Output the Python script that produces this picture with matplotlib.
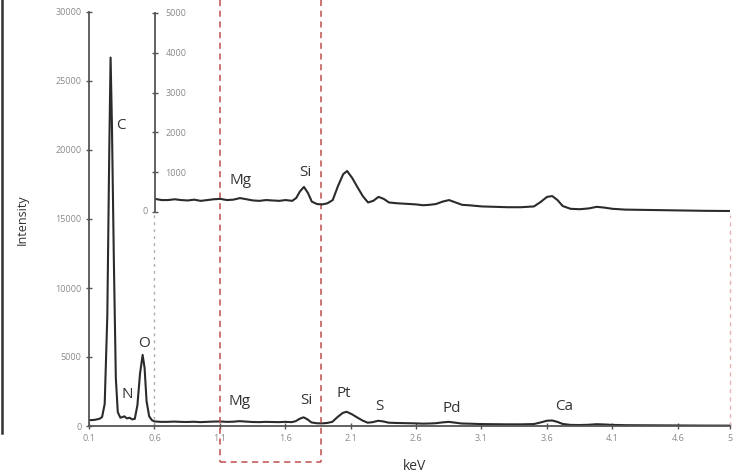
import matplotlib
matplotlib.use("Agg")
import matplotlib.pyplot as plt
import matplotlib.transforms as mtransforms
from matplotlib.lines import Line2D

# ---------------- data ----------------
energy_kev = [0.10, 0.14, 0.18, 0.20, 0.22, 0.24, 0.255, 0.265, 0.275, 0.29, 0.305, 0.32,
              0.34, 0.37, 0.39, 0.41, 0.43, 0.45, 0.47, 0.49, 0.51, 0.525, 0.54, 0.56,
              0.58, 0.60, 0.65, 0.70, 0.75, 0.80, 0.85, 0.90, 0.95, 1.00, 1.05, 1.10,
              1.15, 1.20, 1.25, 1.30, 1.35, 1.40, 1.45, 1.50, 1.55, 1.60, 1.65, 1.68,
              1.71, 1.74, 1.77, 1.80, 1.84, 1.88, 1.92, 1.96, 2.00, 2.04, 2.07, 2.11,
              2.15, 2.19, 2.23, 2.27, 2.31, 2.35, 2.39, 2.45, 2.50, 2.55, 2.60, 2.65,
              2.70, 2.75, 2.80, 2.85, 2.90, 2.95, 3.00, 3.10, 3.20, 3.30, 3.40, 3.50,
              3.55, 3.60, 3.64, 3.68, 3.72, 3.78, 3.85, 3.92, 3.98, 4.04, 4.10, 4.20,
              4.40, 4.60, 4.80, 5.00]
counts = [420, 440, 520, 650, 1600, 8000, 20000, 26700, 22000, 12000, 3500, 1000,
          600, 700, 550, 600, 480, 520, 1500, 3800, 5150, 4200, 1800, 700,
          430, 330, 300, 300, 320, 300, 290, 310, 280, 300, 320, 330,
          300, 310, 350, 320, 290, 280, 300, 290, 280, 300, 280, 350,
          520, 630, 480, 260, 200, 190, 220, 300, 650, 950, 1030, 850,
          620, 400, 240, 280, 380, 330, 240, 220, 210, 200, 190, 170,
          180, 200, 260, 300, 240, 180, 170, 140, 130, 120, 120, 140,
          250, 380, 400, 300, 150, 80, 70, 90, 130, 110, 80, 60,
          50, 40, 30, 25]

main_xticks = [0.1, 0.6, 1.1, 1.6, 2.1, 2.6, 3.1, 3.6, 4.1, 4.6, 5.0]
main_xticklabels = ["0.1", "0.6", "1.1", "1.6", "2.1", "2.6", "3.1", "3.6", "4.1", "4.6", "5"]
main_yticks = [0, 5000, 10000, 15000, 20000, 25000, 30000]
inset_yticks = [0, 1000, 2000, 3000, 4000, 5000]

main_labels = ["C", "N", "O", "Mg", "Si", "Pt", "S", "Pd", "Ca"]
main_label_x = [0.346, 0.39, 0.523, 1.254, 1.76, 2.05, 2.32, 2.87, 3.73]
main_label_y = [21740, 2250, 6000, 1740, 1880, 2390, 1380, 1300, 1380]
inset_labels = ["Mg", "Si"]
inset_label_x = [1.254, 1.75]
inset_label_y = [780, 980]

box_x = [1.1, 1.87]

# ---------------- figure ----------------
plt.rcParams['font.family'] = ['Open Sans', 'DejaVu Sans']
fig = plt.figure(figsize=(7.43, 4.76), dpi=100)
W, H = 743, 476

def fx(px):
    return px / W

def fy(py):
    return 1 - py / H

spine_col = "#555555"
tick_col = "#8a8a8a"
line_col = "#2b2b2b"
tick_fs = 6.5

ax = fig.add_axes([fx(89), fy(426), fx(730) - fx(89), fy(12) - fy(426)])
ax.plot(energy_kev, counts, color=line_col, lw=1.5)
ax.set_xlim(0.1, 5.0)
ax.set_ylim(0, 30000)
ax.set_xticks(main_xticks)
ax.set_xticklabels(main_xticklabels)
ax.set_yticks(main_yticks)
ax.set_yticklabels([str(v) for v in main_yticks])
for s in ["top", "right"]:
    ax.spines[s].set_visible(False)
for s in ["left", "bottom"]:
    ax.spines[s].set_color(spine_col)
    ax.spines[s].set_linewidth(1.3)
ax.tick_params(axis="both", direction="inout", length=5, width=1, color=spine_col,
               labelsize=tick_fs, labelcolor=tick_col, pad=3)
ax.patch.set_alpha(0)

for t, x, y in zip(main_labels, main_label_x, main_label_y):
    ax.text(x, y, t, ha="center", va="center", fontsize=11, color="#333333")

# inset
ax2 = fig.add_axes([fx(155), fy(212), fx(730) - fx(155), fy(13) - fy(212)])
ax2.plot(energy_kev, counts, color=line_col, lw=1.5)
ax2.set_xlim(0.6, 5.0)
ax2.set_ylim(0, 5000)
ax2.set_yticks(inset_yticks)
ax2.set_yticklabels([""] + [str(v) for v in inset_yticks[1:]])
ax2.set_xticks([])
for s in ["top", "right", "bottom"]:
    ax2.spines[s].set_visible(False)
ax2.spines["left"].set_color(spine_col)
ax2.spines["left"].set_linewidth(1.3)
ax2.tick_params(axis="y", direction="inout", length=5, width=1, color=spine_col,
                labelsize=tick_fs, labelcolor=tick_col, pad=-10)
for lbl in ax2.get_yticklabels():
    lbl.set_horizontalalignment("left")
ax2.text(-0.012, 0, str(inset_yticks[0]), transform=ax2.get_yaxis_transform(),
         ha="right", va="center", fontsize=tick_fs, color=tick_col)
ax2.patch.set_alpha(0)
for t, x, y in zip(inset_labels, inset_label_x, inset_label_y):
    ax2.text(x, y, t, ha="center", va="center", fontsize=11, color="#333333")

# connector dashed lines from inset down to main axis
ax.plot([0.6, 0.6], [0, 15300], color="#aaaaaa", lw=1, ls=(0, (2, 3)))
ax.plot([5.0, 5.0], [0, 15300], color="#e8b4b4", lw=1, ls=(0, (3, 3)), clip_on=False)

# red dashed box
trans = mtransforms.blended_transform_factory(ax.transData, fig.transFigure)
box_col = "#c0504d"
for bx in box_x:
    ax.add_line(Line2D([bx, bx], [1.0, fy(462)], transform=trans, color=box_col,
                       lw=1.1, ls=(0, (4, 3)), clip_on=False))
ax.add_line(Line2D(box_x, [fy(462), fy(462)], transform=trans, color=box_col,
                   lw=1.1, ls=(0, (4, 3)), clip_on=False))

# axis titles
fig.text(fx(22), fy(220), "Intensity", rotation=90, ha="center", va="center",
         fontsize=9, color="#333333")
fig.text(fx(415), fy(466), "keV", ha="center", va="center", fontsize=10, color="#333333")

# left border line (crop artifact in reference)
fig.add_artist(Line2D([fx(2), fx(2)], [1.0, fy(433)], transform=fig.transFigure,
                      color="#333333", lw=1.8))

fig.savefig("out.png", dpi=100)
